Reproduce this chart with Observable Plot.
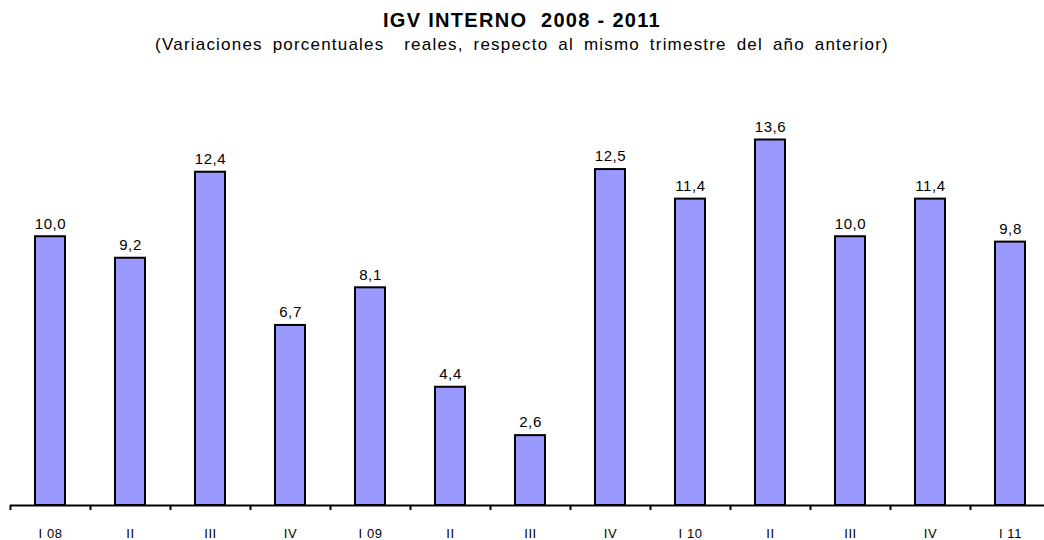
<!DOCTYPE html>
<html>
<head>
<meta charset="utf-8">
<script src="https://cdn.jsdelivr.net/npm/d3@7"></script>
<script src="https://cdn.jsdelivr.net/npm/@observablehq/plot@0.6"></script>
<style>
  html, body { margin: 0; padding: 0; background: #fff; overflow: hidden; }
  body { width: 1044px; height: 540px; font-family: "Liberation Sans", Arial, sans-serif; }
  #title { position: absolute; z-index: 2; top: 10px; left: 0; width: 1044px; text-align: center; font-weight: bold; font-size: 20px; line-height: 20px; letter-spacing: 1.3px; white-space: pre; color: #000; }
  #subtitle { position: absolute; z-index: 2; top: 35px; left: 0; width: 1044px; text-align: center; font-size: 17px; line-height: 20px; letter-spacing: 1.2px; word-spacing: 4px; white-space: pre; color: #000; }
  #chart { position: absolute; z-index: 1; top: 48px; left: 0; }
  #chart svg text { letter-spacing: 0.6px; }
</style>
</head>
<body>
<div id="title">IGV INTERNO  2008 - 2011</div>
<div id="subtitle">(Variaciones porcentuales  reales, respecto al mismo trimestre del año anterior)</div>
<div id="chart"></div>
<script>
const quarters = ["I 08", "II", "III", "IV", "I 09", "II ", "III ", "IV ", "I 10", "II  ", "III  ", "IV  ", "I 11"];
const values = [10.0, 9.2, 12.4, 6.7, 8.1, 4.4, 2.6, 12.5, 11.4, 13.6, 10.0, 11.4, 9.8];
const data = quarters.map((q, i) => ({q, v: values[i]}));
const fmt = v => v.toFixed(1).replace(".", ",");

const chart = Plot.plot({
  width: 1044,
  height: 492,
  marginLeft: 10,
  marginRight: 0,
  marginTop: 27,
  marginBottom: 35,
  style: {fontFamily: "Liberation Sans, Arial, sans-serif", color: "#000", background: "transparent", overflow: "visible"},
  x: {domain: quarters, range: [10, 1050], paddingInner: 0.62, paddingOuter: 0.31, align: 0.5, axis: null},
  y: {domain: [0, 16], axis: null},
  marks: [
    Plot.barY(data, {x: "q", y: "v", fill: "#9999FF", stroke: "#000", strokeWidth: 2}),
    Plot.text(data, {x: "q", y: "v", text: d => fmt(d.v), dy: -13, fontSize: 15, fill: "#000"}),
    Plot.ruleY([0], {stroke: "#000", strokeWidth: 2}),
    Plot.ruleX(quarters, {x: d => d, y1: 0, y2: 0, dx: -40, insetBottom: -5, stroke: "#000", strokeWidth: 2}),
    Plot.text(quarters, {x: d => d, y: 0, text: d => d.trim(), dy: 28, fontSize: 13, fill: "#000"})
  ]
});
document.getElementById("chart").appendChild(chart);
</script>
</body>
</html>
